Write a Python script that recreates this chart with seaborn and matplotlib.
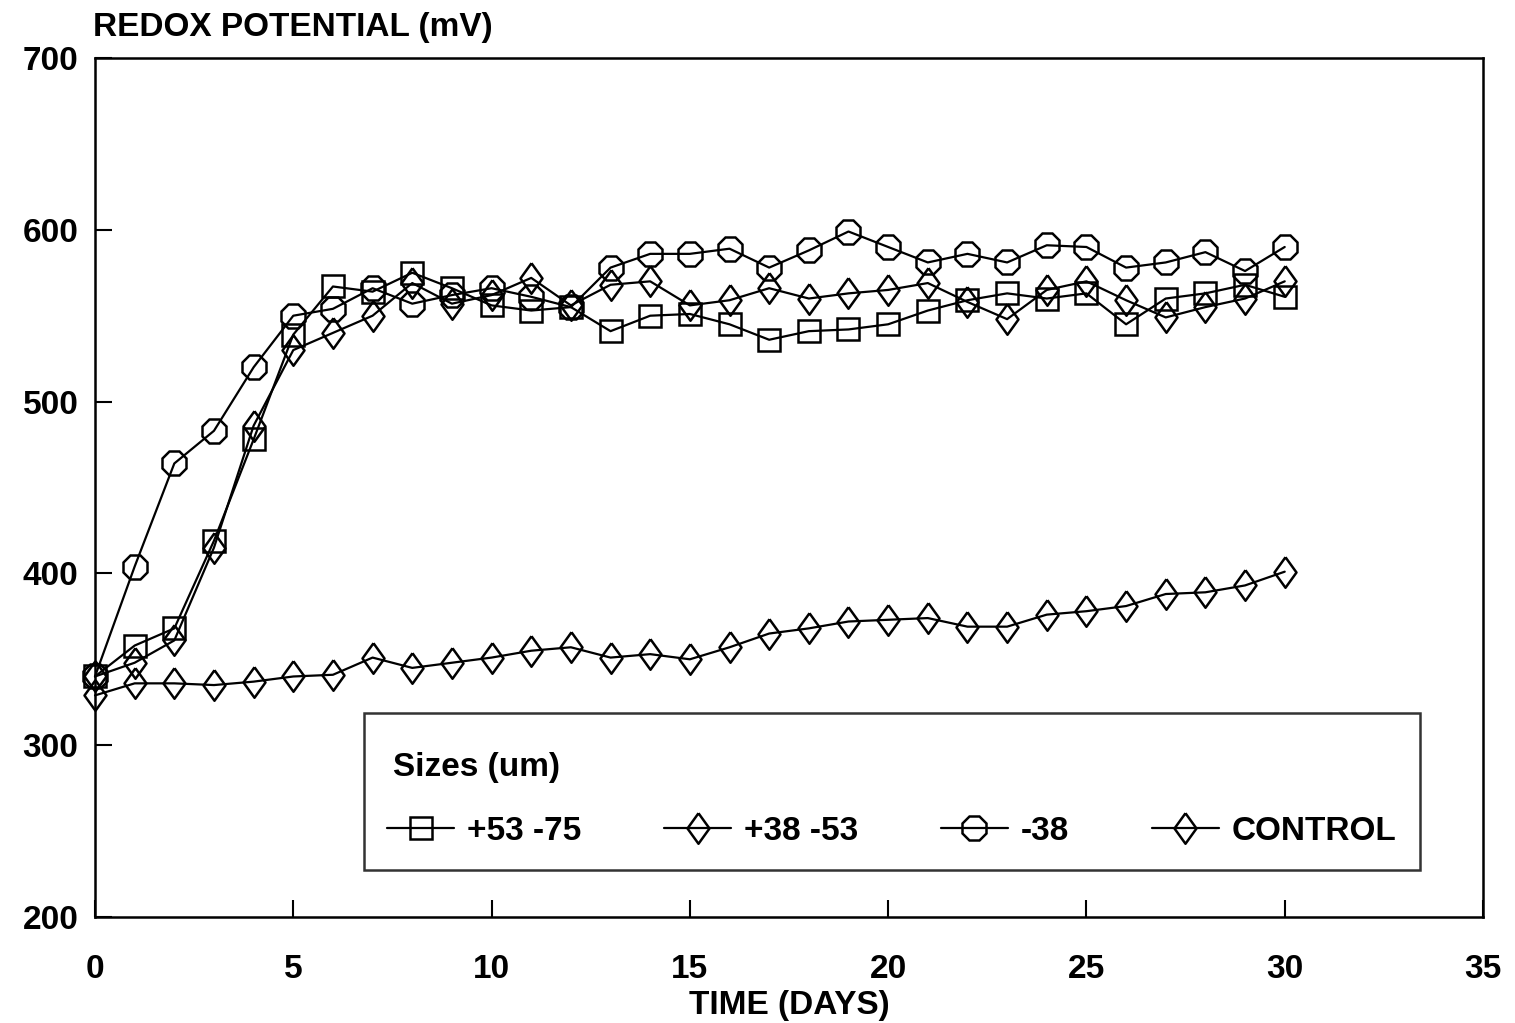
import matplotlib
matplotlib.use("Agg")
import matplotlib.pyplot as plt
import seaborn as sns
import pandas as pd

days = list(range(31))

size_53_75 = [340, 358, 368, 419, 478, 539, 567, 564, 575, 566, 556, 553, 555, 541, 550, 551,
              545, 536, 541, 542, 545, 553, 559, 563, 560, 563, 545, 560, 563, 568, 561]
size_38_53 = [340, 348, 361, 415, 486, 530, 540, 550, 569, 557, 562, 572, 556, 568, 570, 556,
              559, 566, 560, 563, 565, 569, 558, 548, 565, 570, 559, 549, 555, 560, 570]
size_m38 = [340, 404, 464, 483, 520, 550, 554, 566, 557, 562, 566, 561, 555, 578, 586, 586,
            589, 578, 588, 599, 590, 581, 586, 581, 591, 590, 578, 581, 587, 576, 590]
control = [329, 336, 336, 335, 337, 340, 341, 351, 345, 348, 351, 355, 357, 351, 353, 350,
           357, 365, 368, 372, 373, 374, 369, 369, 376, 378, 381, 388, 389, 393, 401]

series_labels = ["+53 -75", "+38 -53", "-38", "CONTROL"]
series_values = [size_53_75, size_38_53, size_m38, control]

# open diamond a little wider than matplotlib's thin diamond
diamond = [(0, 1), (0.72, 0), (0, -1), (-0.72, 0), (0, 1)]
series_markers = ["s", diamond, "8", diamond]
series_sizes = [16, 22, 19, 22]

sns.set_theme(style="white")
plt.rcParams["font.family"] = ["Liberation Sans", "DejaVu Sans"]
plt.rcParams["font.weight"] = "bold"
plt.rcParams["text.color"] = "black"
plt.rcParams["axes.labelcolor"] = "black"
plt.rcParams["xtick.color"] = "black"
plt.rcParams["ytick.color"] = "black"

FS = 24

fig = plt.figure(figsize=(15.15, 10.23), dpi=100)
ax = fig.add_axes([95 / 1515, 1 - 917 / 1023, (1483 - 95) / 1515, (917 - 58) / 1023])

for label, vals, mk, ms in zip(series_labels, series_values, series_markers, series_sizes):
    df = pd.DataFrame({"day": days, "mv": vals})
    sns.lineplot(data=df, x="day", y="mv", ax=ax, color="black", linewidth=1.6,
                 marker=mk, markersize=ms, markerfacecolor="none",
                 markeredgecolor="black", markeredgewidth=1.8, label=label,
                 clip_on=False)

ax.set_xlim(0, 35)
ax.set_ylim(200, 700)
ax.set_xticks(range(0, 36, 5))
ax.set_yticks(range(200, 701, 100))
ax.tick_params(axis="x", direction="in", length=12, width=1.5, pad=27,
               labelsize=FS, bottom=True, top=False, colors="black")
ax.tick_params(axis="y", direction="in", length=12, width=1.5, pad=12,
               labelsize=FS, left=True, right=False, colors="black")
for lab in ax.get_xticklabels() + ax.get_yticklabels():
    lab.set_fontweight("bold")
for sp in ax.spines.values():
    sp.set_color("black")
    sp.set_linewidth(1.8)

ax.set_xlabel("TIME (DAYS)", fontsize=FS, fontweight="bold", labelpad=3, color="black")
ax.set_ylabel("")
fig.text(93 / 1515, 1 - 36 / 1023, "REDOX POTENTIAL (mV)", fontsize=FS,
         fontweight="bold", ha="left", va="baseline", color="black")

leg = ax.legend(loc="lower left",
                bbox_to_anchor=((364 - 95) / 1388, (917 - 870) / 859, (1420 - 364) / 1388, 0.1),
                mode="expand", ncol=4, title="Sizes (um)", fontsize=FS,
                title_fontsize=FS, frameon=True, fancybox=False, handlelength=2.0,
                handletextpad=0.4, borderpad=0.7, labelspacing=0.5,
                borderaxespad=0, alignment="left")
leg.get_title().set_fontweight("bold")
leg.get_title().set_color("black")
leg.get_title().set_position((6, -16))
for t in leg.get_texts():
    t.set_color("black")
leg._legend_box.sep = 35
frame = leg.get_frame()
frame.set_edgecolor("black")
frame.set_linewidth(1.8)

fig.savefig("out.png", dpi=100, facecolor="white")
